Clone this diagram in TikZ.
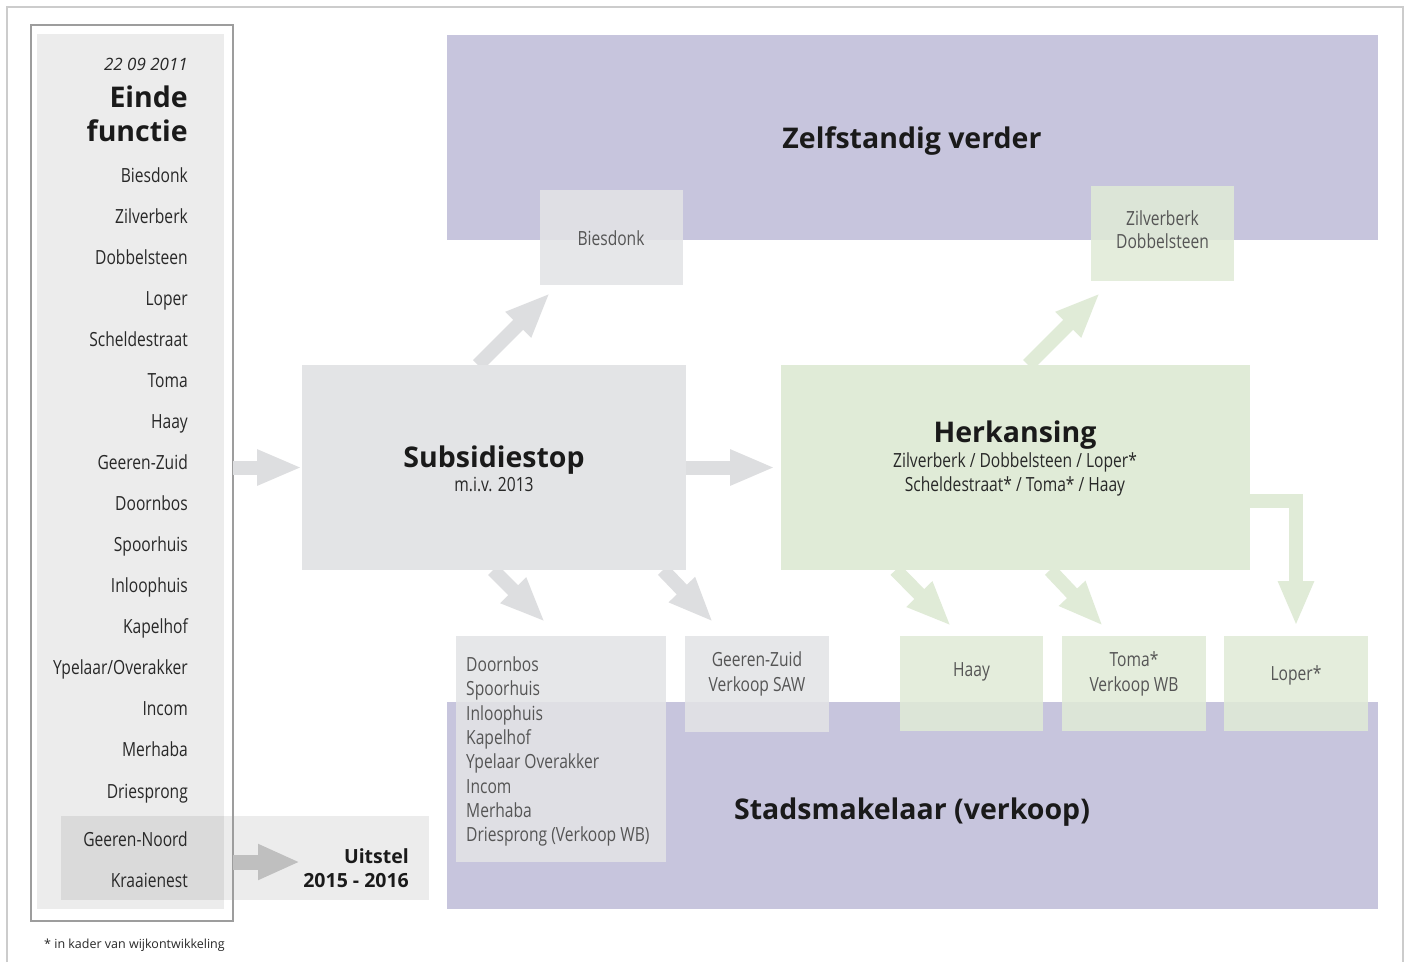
\documentclass[tikz,border=0pt]{standalone}
\usepackage{fontspec}
\setmainfont{Open Sans}
\newfontfamily\cond[FakeStretch=0.8]{Open Sans}
\usetikzlibrary{arrows.meta}
\definecolor{purp}{RGB}{199,197,221}
\definecolor{lgray}{RGB}{227,228,230}
\definecolor{lgreen}{RGB}{224,235,215}
\definecolor{colfill}{RGB}{236,236,236}
\definecolor{colborder}{RGB}{157,157,157}
\definecolor{framec}{RGB}{204,204,204}
\definecolor{arrgray}{RGB}{221,222,224}
\definecolor{arrgreen}{RGB}{224,235,215}
\definecolor{arrdark}{RGB}{191,191,191}
\definecolor{txtdark}{RGB}{26,26,26}
\definecolor{txtlist}{RGB}{40,40,40}
\definecolor{txtbox}{RGB}{85,85,85}
\begin{document}
\begin{tikzpicture}[x=1pt,y=-1pt,
  box/.style={rectangle, inner sep=0pt, outer sep=0pt, anchor=north west},
  tbox/.style={box, fill opacity=0.86},
  hd/.style={font=\fontsize{28.5}{32}\selectfont\bfseries, text=txtdark, inner sep=0pt, anchor=base},
  lst/.style={font=\cond\fontsize{19.5}{24}\selectfont, text=txtlist, inner sep=0pt, anchor=base east},
  sub/.style={font=\cond\fontsize{19.5}{24}\selectfont, text=txtlist, inner sep=0pt, anchor=base},
  bt/.style={font=\cond\fontsize{19.5}{24}\selectfont, text=txtbox, inner sep=0pt, anchor=base},
  btl/.style={font=\cond\fontsize{19.5}{24}\selectfont, text=txtbox, inner sep=0pt, anchor=base west},
  fat/.style={line width=14pt, -{Triangle[length=45pt,width=33pt]}},
]
\useasboundingbox (0,0) rectangle (1407,962);
\fill[white] (0,0) rectangle (1407,962);
\draw[framec, line width=1.5pt] (7,962) -- (7,7) -- (1403,7) -- (1403,962);

% purple target areas
\node[box, fill=purp, minimum width=931pt, minimum height=205pt] (zelf) at (447,35) {};
\node[box, fill=purp, minimum width=931pt, minimum height=207pt] (stad) at (447,702) {};
\node[hd] (zelft) at (912,148) {Zelfstandig verder};
\node[hd] (stadt) at (912,819) {Stadsmakelaar (verkoop)};

% left column
\fill[colfill] (37,34) rectangle (224,909);
\fill[black, opacity=0.075] (61,816) rectangle (429,900);
\node[box, draw=colborder, line width=1.8pt, minimum width=202pt, minimum height=896pt] (col) at (31,25) {};
\node[font=\fontsize{17}{20}\selectfont\itshape, text=txtlist, inner sep=0pt, anchor=base east] (date) at (188,70) {22 09 2011};
\node[hd, anchor=base east] (einde) at (188,107) {Einde};
\node[hd, anchor=base east] (functie) at (188,141) {functie};
\foreach \t [count=\i] in {Biesdonk,Zilverberk,Dobbelsteen,Loper,Scheldestraat,Toma,Haay,Geeren-Zuid,Doornbos,Spoorhuis,Inloophuis,Kapelhof,Ypelaar/Overakker,Incom,Merhaba,Driesprong}
  \node[lst] (l\i) at (188,{182+41.07*(\i-1)}) {\t};
\node[lst] (gn) at (188,846.5) {Geeren-Noord};
\node[lst] (kr) at (188,887) {Kraaienest};
\node[hd, font=\fontsize{19.5}{24}\selectfont\bfseries, anchor=base east] (uit1) at (409,863) {Uitstel};
\node[hd, font=\fontsize{19.5}{24}\selectfont\bfseries, anchor=base east] (uit2) at (409,887) {2015 - 2016};
\coordinate (uitarr) at (300,862);
\draw[fat, arrdark, line width=15pt, -{Triangle[length=42pt,width=33pt]}] (col.east |- uitarr) -- (uitarr);

% boxes in target areas
\node[tbox, fill=lgray, minimum width=143pt, minimum height=95pt] (bies) at (540,190) {};
\node[bt] (biest) at (611,245) {Biesdonk};
\node[tbox, fill=lgreen, minimum width=143pt, minimum height=95pt] (zil) at (1091,186) {};
\node[bt] (zilt1) at (1162.5,225) {Zilverberk};
\node[bt] (zilt2) at (1162.5,248) {Dobbelsteen};

\node[tbox, fill=lgray, minimum width=210pt, minimum height=226pt] (doorn) at (456,636) {};
\foreach \t [count=\i] in {Doornbos,Spoorhuis,Inloophuis,Kapelhof,Ypelaar Overakker,Incom,Merhaba,Driesprong (Verkoop WB)}
  \node[btl] (d\i) at (466,{671.5+24.3*(\i-1)}) {\t};
\node[tbox, fill=lgray, minimum width=144pt, minimum height=96pt] (geer) at (685,636) {};
\node[bt] (geert1) at (757,666.5) {Geeren-Zuid};
\node[bt] (geert2) at (757,691.5) {Verkoop SAW};
\node[tbox, fill=lgreen, minimum width=143pt, minimum height=95pt] (haay) at (900,636) {};
\node[bt] (haayt) at (971.5,676) {Haay};
\node[tbox, fill=lgreen, minimum width=144pt, minimum height=95pt] (toma) at (1062,636) {};
\node[bt] (tomat1) at (1134,666.5) {Toma*};
\node[bt] (tomat2) at (1134,691.5) {Verkoop WB};
\node[tbox, fill=lgreen, minimum width=144pt, minimum height=95pt] (loper) at (1224,636) {};
\node[bt] (lopert) at (1296,680) {Loper*};

% central boxes (drawn after arrows are declared via coordinates)
\path (302,365) coordinate (subnw) (686,570) coordinate (subse);
\path (781,365) coordinate (herknw) (1250,570) coordinate (herkse);
\node[box, minimum width=384pt, minimum height=205pt] (subs) at (302,365) {};
\node[box, minimum width=469pt, minimum height=205pt] (herk) at (781,365) {};

% arrows
\draw[fat, arrgray] (col.east |- subs.center) -- (subs.west);
\draw[fat, arrgray] (subs.east) -- ([xshift=-6pt]herk.west);
\draw[fat, arrgray] ([xshift=176pt]subs.north west) -- ([xshift=10pt,yshift=-8pt]bies.south west);
\draw[fat, arrgray] ([xshift=191pt]subs.south west) -- ([xshift=89pt,yshift=14pt]doorn.north west);
\draw[fat, arrgray] ([xshift=361pt]subs.south west) -- ([xshift=28pt,yshift=14pt]geer.north west);
\draw[fat, arrgreen] ([xshift=247pt]herk.north west) -- ([xshift=9pt,yshift=-12pt]zil.south west);
\draw[fat, arrgreen] ([xshift=114.5pt]herk.south west) -- ([xshift=51pt,yshift=10pt]haay.north west);
\draw[fat, arrgreen] ([xshift=269pt]herk.south west) -- ([xshift=41pt,yshift=10pt]toma.north west);
\draw[fat, arrgreen] ([yshift=-33pt]herk.east) -| ([yshift=10pt]loper.north);

% central box fills
\fill[lgray] (subnw) rectangle (subse);
\fill[lgreen] (herknw) rectangle (herkse);
\node[hd] (subt) at (494,467) {Subsidiestop};
\node[sub] (subt2) at (494,491) {m.i.v. 2013};
\node[hd] (herkt) at (1015,442) {Herkansing};
\node[sub] (herkt2) at (1015,467) {Zilverberk / Dobbelsteen / Loper*};
\node[sub] (herkt3) at (1015,491) {Scheldestraat* / Toma* / Haay};

% footnote
\node[font=\fontsize{12.5}{15}\selectfont, text=txtlist, inner sep=0pt, anchor=base west] (foot) at (44,948) {* in kader van wijkontwikkeling};
\end{tikzpicture}
\end{document}
